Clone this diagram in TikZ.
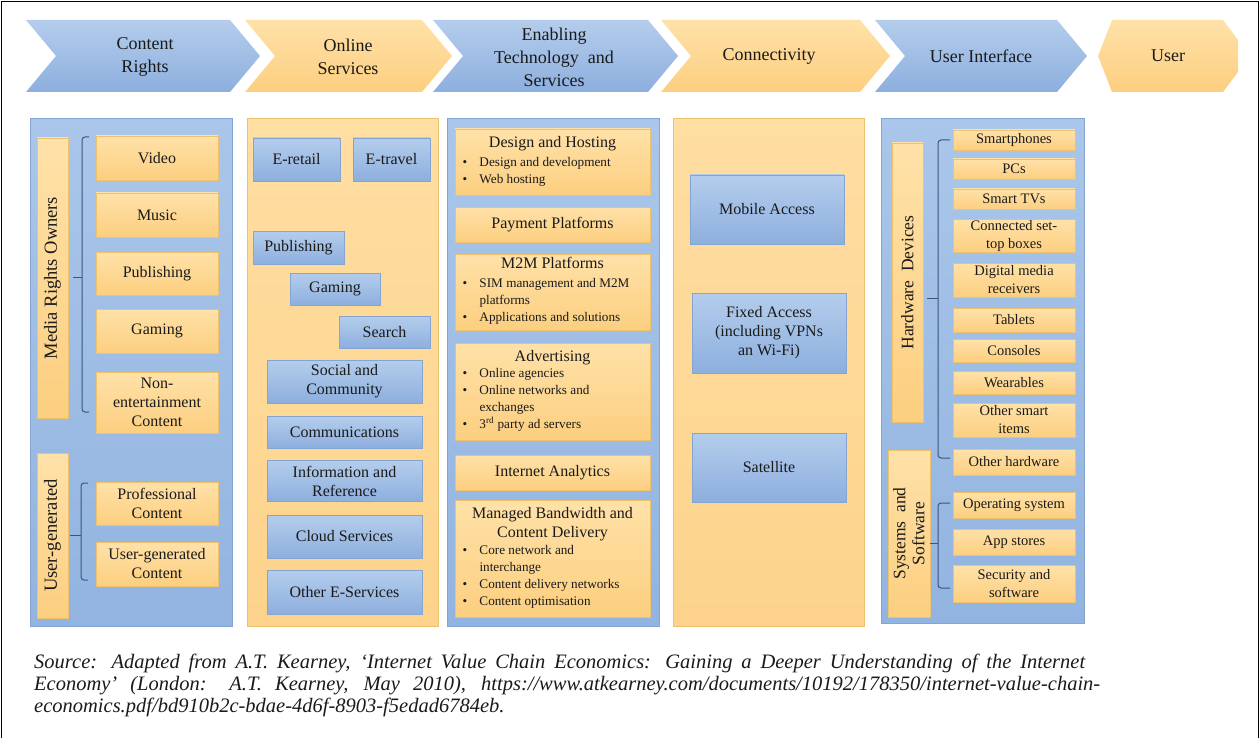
\documentclass[tikz,border=0pt]{standalone}
\usepackage{fontspec}
\setmainfont{Liberation Serif}
\usetikzlibrary{positioning}

\definecolor{blueTop}{HTML}{B4CDEC}
\definecolor{blueBot}{HTML}{8DAFDE}
\definecolor{blueLine}{HTML}{86A4D2}
\definecolor{orTop}{HTML}{FFE1A8}
\definecolor{orBot}{HTML}{FCCF80}
\definecolor{orLine}{HTML}{EEC16C}
\definecolor{colBlueTop}{HTML}{AAC6EA}
\definecolor{colBlueBot}{HTML}{92B4E0}
\definecolor{colOrTop}{HTML}{FFDEA2}
\definecolor{colOrBot}{HTML}{FDD38B}
\definecolor{brkCol}{HTML}{3E5478}
\definecolor{txtCol}{HTML}{1A1A1A}

\tikzset{
  sz/.style 2 args={minimum width=#1, minimum height=#2},
  bbox/.style={draw=blueLine, top color=blueTop, bottom color=blueBot, inner sep=1pt,
    align=center, text=txtCol, font=\fontsize{16}{19}\selectfont},
  obox/.style={draw=orLine, top color=orTop, bottom color=orBot, inner sep=1pt,
    align=center, text=txtCol, font=\fontsize{16}{19}\selectfont},
  smallbox/.style={obox, font=\fontsize{14.5}{18}\selectfont},
  bcol/.style={draw=blueLine, top color=colBlueTop, bottom color=colBlueBot, anchor=north west, inner sep=0pt},
  ocol/.style={draw=orLine, top color=colOrTop, bottom color=colOrBot, anchor=north west, inner sep=0pt},
  bchev/.style={top color=blueTop, bottom color=blueBot},
  ochev/.style={top color=orTop, bottom color=orBot},
  chevtext/.style={align=center, text=txtCol, font=\fontsize{18}{23}\selectfont},
  bar/.style={obox, rotate=90, font=\fontsize{18.5}{20}\selectfont},
  brk/.style={draw=brkCol, line width=1pt, rounded corners=3pt},
}

\newcommand{\bultab}[1]{\fontsize{13.2}{17}\selectfont
  \begin{tabular}[t]{@{}p{17pt}@{}p{163pt}@{}}#1\end{tabular}}

\begin{document}
\begin{tikzpicture}[x=1pt, y=-1pt]
\useasboundingbox (0,0) rectangle (1260,738);
\draw[line width=1pt] (1.5,738) -- (1.5,1.5) -- (1258.5,1.5) -- (1258.5,738);

% chain of stages
\path[bchev] (26,20) -- (230,20) -- (260,56) -- (230,92) -- (26,92) -- (56,56) -- cycle;
\path[ochev] (245,20) -- (422,20) -- (452,56) -- (422,92) -- (245,92) -- (275,56) -- cycle;
\path[bchev] (433,20) -- (648,20) -- (678,56) -- (648,92) -- (433,92) -- (463,56) -- cycle;
\path[ochev] (661,20) -- (860,20) -- (890,56) -- (860,92) -- (661,92) -- (691,56) -- cycle;
\path[bchev] (875,20) -- (1057,20) -- (1087,56) -- (1057,92) -- (875,92) -- (905,56) -- cycle;
\path[ochev] (1098,56) -- (1112,20) -- (1223,20) -- (1238,40) -- (1238,72) -- (1223,92) -- (1112,92) -- cycle;
\node[chevtext] (rights) at (145,57) {Content\\Rights};
\node[chevtext] (online) at (348,57) {Online\\Services};
\node[chevtext] (enabling) at (554,57) {Enabling\\Technology\ \ and\\Services};
\node[chevtext] (connect) at (769,56) {Connectivity};
\node[chevtext] (uif) at (981,56) {User Interface};
\node[chevtext] (user) at (1168,56) {User};

% columns
\node[bcol, sz={202}{508}] (col1) at (30,118) {};
\node[ocol, sz={191}{508}] (col2) at (247,118) {};
\node[bcol, sz={212}{508}] (col3) at (447,118) {};
\node[ocol, sz={191}{508}] (col4) at (673,118) {};
\node[bcol, sz={203}{505}] (col5) at (881,118) {};

% content rights
\node[bar, sz={280}{31}] (mro) at (52.5,278) {Media Rights Owners};
\node[bar, sz={165}{31}] (ugen) at (52.5,535.5) {User-generated};
\node[obox, sz={122}{44}] (video) at (157,158) {Video};
\node[obox, sz={122}{44}] (music) at (157,215) {Music};
\node[obox, sz={122}{43}] (pub1) at (157,273.5) {Publishing};
\node[obox, sz={122}{44}] (gam1) at (157,331) {Gaming};
\node[obox, sz={122}{61}] (nonent) at (157,402.5) {Non-\\entertainment\\Content};
\node[obox, sz={122}{43}] (prof) at (157,503.5) {Professional\\Content};
\node[obox, sz={122}{44}] (ugc) at (157,564) {User-generated\\Content};
\draw[brk] (89,137) -- (82,137) -- (82,412) -- (89,412);
\draw[brk] (82,277) -- (73,277);
\draw[brk] (88,483) -- (81,483) -- (81,580) -- (88,580);
\draw[brk] (81,535) -- (70,535);

% online services
\node[bbox, sz={87}{43}] (eretail) at (296.5,159.5) {E-retail};
\node[bbox, sz={77}{43}] (etravel) at (391.5,159.5) {E-travel};
\node[bbox, sz={91}{33}] (pub2) at (298.5,247.5) {Publishing};
\node[bbox, sz={90}{32}] (gam2) at (335,289) {Gaming};
\node[bbox, sz={91}{32}] (search) at (384.5,332) {Search};
\node[bbox, sz={155}{43}] (social) at (344.5,381.5) {Social and\\Community};
\node[bbox, sz={155}{32}] (comms) at (344.5,432) {Communications};
\node[bbox, sz={155}{41}] (info) at (344.5,481) {Information and\\Reference};
\node[bbox, sz={155}{43}] (cloud) at (344.5,536.5) {Cloud Services};
\node[bbox, sz={155}{44}] (othere) at (344.5,592) {Other E-Services};

% enabling technology
\node[obox, sz={195}{66}] (design) at (552.5,162) {Design and Hosting\\
  \bultab{\textbullet & Design and development\\ \textbullet & Web hosting}};
\node[obox, sz={195}{35}] (payment) at (552.5,224.5) {Payment Platforms};
\node[obox, sz={195}{76}] (mtom) at (552.5,292) {M2M Platforms\\
  \bultab{\textbullet & SIM management and M2M\newline platforms\\ \textbullet & Applications and solutions}};
\node[obox, sz={195}{97}] (advert) at (552.5,391.5) {Advertising\\[-3pt]
  \bultab{\textbullet & Online agencies\\ \textbullet & Online networks and\newline exchanges\\
  \textbullet & 3\textsuperscript{rd} party ad servers}};
\node[obox, sz={195}{35}] (analytics) at (552.5,472.5) {Internet Analytics};
\node[obox, sz={195}{117}] (bandwidth) at (552.5,558.5) {Managed Bandwidth and\\Content Delivery\\[-2pt]
  \bultab{\textbullet & Core network and\newline interchange\\ \textbullet & Content delivery networks\\
  \textbullet & Content optimisation}};

% connectivity
\node[bbox, sz={154}{69}] (mobile) at (767,209.5) {Mobile Access};
\node[bbox, sz={154}{80}] (fixed) at (769,333) {Fixed Access\\(including VPNs\\an Wi-Fi)};
\node[bbox, sz={154}{69}] (sat) at (769,467.5) {Satellite};

% user interface
\node[bar, sz={279}{31}, font=\fontsize{17.5}{20}\selectfont] (hwd) at (907.5,282.5) {Hardware\ \ Devices};
\node[bar, sz={167}{42}, font=\fontsize{17.5}{19}\selectfont] (sys) at (909,533.5) {Systems\ \ and\\Software};
\node[smallbox, sz={122}{20}] (phones) at (1014,140) {Smartphones};
\node[smallbox, sz={122}{20}] (pcs) at (1014,169) {PCs};
\node[smallbox, sz={122}{20}] (tvs) at (1014,199) {Smart TVs};
\node[smallbox, sz={122}{32}] (stb) at (1014,236) {Connected set-\\top boxes};
\node[smallbox, sz={122}{34}] (dmr) at (1014,280) {Digital media\\receivers};
\node[smallbox, sz={122}{24}] (tablets) at (1014,320) {Tablets};
\node[smallbox, sz={122}{23}] (consoles) at (1014,350.5) {Consoles};
\node[smallbox, sz={122}{23}] (wear) at (1014,382.5) {Wearables};
\node[smallbox, sz={122}{34}] (smart) at (1014,420) {Other smart\\items};
\node[smallbox, sz={122}{26}] (otherhw) at (1014,462) {Other hardware};
\node[smallbox, sz={122}{26}] (os) at (1014,505) {Operating system};
\node[smallbox, sz={122}{26}] (apps) at (1014,542) {App stores};
\node[smallbox, sz={122}{37}] (security) at (1014,583.5) {Security and\\software};
\draw[brk] (950,140) -- (938,140) -- (938,458) -- (950,458);
\draw[brk] (938,298) -- (927,298);
\draw[brk] (950,503) -- (938,503) -- (938,588) -- (950,588);
\draw[brk] (938,543) -- (930,543);

% source
\node[anchor=north west, align=left, text=txtCol, inner sep=0pt,
  font=\fontsize{20.5}{22}\selectfont\itshape] (source) at (34,654)
  {\makebox[1051pt][s]{Source: Adapted from A.T. Kearney, ‘Internet Value Chain Economics: Gaining a Deeper Understanding of the Internet}\\
   \makebox[1066pt][s]{Economy’ (London: A.T. Kearney, May 2010), https://www.atkearney.com/documents/10192/178350/internet-value-chain-}\\
   economics.pdf/bd910b2c-bdae-4d6f-8903-f5edad6784eb.};
\end{tikzpicture}
\end{document}
